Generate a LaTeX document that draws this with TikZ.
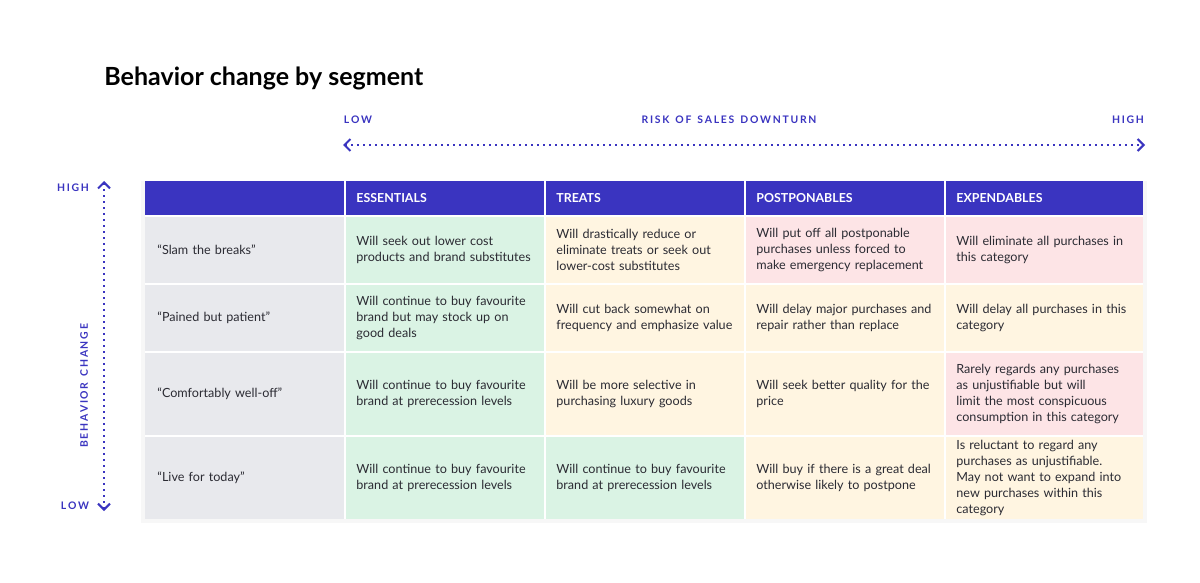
\documentclass[tikz,border=0pt]{standalone}
\usepackage{fontspec}
\setmainfont{Lato}
\usetikzlibrary{arrows.meta}
\hyphenpenalty=10000
\exhyphenpenalty=10000
\definecolor{hdr}{HTML}{3A34C0}
\definecolor{lbl}{HTML}{E8E9ED}
\definecolor{grn}{HTML}{DAF3E4}
\definecolor{ylw}{HTML}{FFF5E1}
\definecolor{pnk}{HTML}{FDE4E6}
\definecolor{ink}{HTML}{2B2B33}
\tikzset{
  cell/.style={anchor=west, text width=88pt, align=left, font=\fontsize{6.3}{8}\selectfont, text=ink, inner sep=0pt},
  head/.style={anchor=west, font=\fontsize{6.2}{8}\selectfont\bfseries, text=white, inner sep=0pt},
  axis/.style={font=\fontsize{5.2}{6}\selectfont\bfseries, text=hdr, inner sep=0pt},
  risk/.style={hdr, line width=1pt, dotted, {Straight Barb[length=3pt,width=6pt]}-{Straight Barb[length=3pt,width=6pt]}}
}
\begin{document}
\begin{tikzpicture}[x=0.5pt,y=-0.5pt]
\useasboundingbox (0,0) rectangle (1200,583);
\fill[white] (0,0) rectangle (1200,583);
\node[anchor=west, font=\fontsize{12.5}{14}\selectfont\bfseries, text=black, inner sep=0pt] (title) at (104,78) {Behavior change by segment};
% axes
\node[axis] (xlow) at (358,120) {L\,O\,W};
\node[axis] (xmid) at (729,120) {R\,I\,S\,K\, \,O\,F\, \,S\,A\,L\,E\,S\, \,D\,O\,W\,N\,T\,U\,R\,N};
\node[axis] (xhigh) at (1128,120) {H\,I\,G\,H};
\coordinate (xa) at (343,145);
\coordinate (xb) at (1145,145);
\draw[risk] (xa) -- (xb);
\node[axis] (yhigh) at (73,188) {H\,I\,G\,H};
\node[axis] (ylow) at (75,506) {L\,O\,W};
\node[axis, rotate=90] (ymid) at (84,386) {B\,E\,H\,A\,V\,I\,O\,R\, \,C\,H\,A\,N\,G\,E};
\coordinate (ya) at (104,181);
\coordinate (yb) at (104,511);
\draw[risk] (ya) -- (yb);
% table
\fill[black!3] (141,181) rectangle (1147,523);
\fill[hdr] (145,181) rectangle (1143,216);
\foreach \x/\t [count=\c] in {345/ESSENTIALS,545/TREATS,745/POSTPONABLES,945/EXPENDABLES}
  \node[head] (h\c) at (\x+11,198) {\t};
\foreach \x in {345,545,745,945}
  \draw[white, line width=0.8pt] (\x,181) -- (\x,519);
\foreach \ya/\yb/\seg/\ca/\cb/\cc/\cd [count=\r] in {
  216/284/{``Slam the breaks''}/grn/ylw/pnk/pnk,
  284/352/{``Pained but patient''}/grn/ylw/ylw/ylw,
  352/436/{``Comfortably well-off''}/grn/ylw/ylw/pnk,
  436/519/{``Live for today''}/grn/grn/ylw/ylw}{
  \fill[lbl] (145,\ya) rectangle (345,\yb);
  \fill[\ca] (345,\ya) rectangle (545,\yb);
  \fill[\cb] (545,\ya) rectangle (745,\yb);
  \fill[\cc] (745,\ya) rectangle (945,\yb);
  \fill[\cd] (945,\ya) rectangle (1143,\yb);
  \draw[white, line width=0.8pt] (145,\ya) -- (1143,\ya);
  \draw[white, line width=0.8pt] (345,\ya) -- (345,\yb) (545,\ya) -- (545,\yb) (745,\ya) -- (745,\yb) (945,\ya) -- (945,\yb);
  \node[cell] (s\r) at (157,{(\ya+\yb)/2}) {\seg};
}
% cells
\node[cell] (c11) at (356,250) {Will seek out lower cost products and brand substitutes};
\node[cell] (c12) at (556,250) {Will drastically reduce or eliminate treats or seek out lower-cost substitutes};
\node[cell] (c13) at (756,250) {Will put off all postponable purchases unless forced to make emergency replacement};
\node[cell] (c14) at (956,250) {Will eliminate all purchases in this category};
\node[cell] (c21) at (356,318) {Will continue to buy favourite brand but may stock up on good deals};
\node[cell] (c22) at (556,318) {Will cut back somewhat on frequency and emphasize value};
\node[cell] (c23) at (756,318) {Will delay major purchases and repair rather than replace};
\node[cell] (c24) at (956,318) {Will delay all purchases in this category};
\node[cell] (c31) at (356,394) {Will continue to buy favourite brand at prerecession levels};
\node[cell] (c32) at (556,394) {Will be more selective in purchasing luxury goods};
\node[cell] (c33) at (756,394) {Will seek better quality for the price};
\node[cell] (c34) at (956,394) {Rarely regards any purchases as unjustifiable but will limit the most conspicuous consumption in this category};
\node[cell] (c41) at (356,478) {Will continue to buy favourite brand at prerecession levels};
\node[cell] (c42) at (556,478) {Will continue to buy favourite brand at prerecession levels};
\node[cell] (c43) at (756,478) {Will buy if there is a great deal otherwise likely to postpone};
\node[cell] (c44) at (956,478) {Is reluctant to regard any purchases as unjustifiable. May not want to expand into new purchases within this category};
\end{tikzpicture}
\end{document}
